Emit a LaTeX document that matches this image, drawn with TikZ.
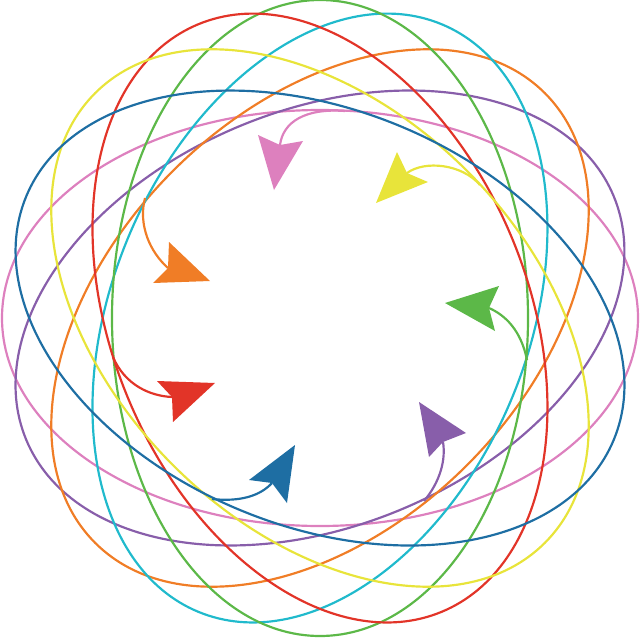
\documentclass[tikz,border=0pt]{standalone}
\definecolor{cpink}{RGB}{221,128,190}
\definecolor{cpurple}{RGB}{136,94,170}
\definecolor{corange}{RGB}{240,125,38}
\definecolor{ccyan}{RGB}{32,186,204}
\definecolor{cgreen}{RGB}{92,184,72}
\definecolor{cred}{RGB}{226,52,40}
\definecolor{cyellow}{RGB}{232,228,58}
\definecolor{cblue}{RGB}{30,110,163}
\begin{document}
\begin{tikzpicture}[x=0.025cm,y=-0.025cm,
  ringline/.style={line width=1.55pt},
  linkline/.style={line width=1.55pt}]
\useasboundingbox (0,0) rectangle (640,640);
\coordinate (c) at (320,318);
% ellipses
\foreach \ang/\col in {0/cpink,22.5/cpurple,45/corange,67.5/ccyan,90/cgreen,112.5/cred,135/cyellow,157.5/cblue}
  \draw[ringline,\col,rotate around={\ang:(c)}] (c) ellipse [x radius=318,y radius=208];
% pink arrow
\coordinate (ps) at (345,111); \coordinate (pn) at (280,145);
\draw[linkline,cpink] (ps) .. controls (305,108) and (283,122) .. (pn);
\fill[cpink] (274,190) -- (258,135) -- (pn) -- (303,141) -- cycle;
% yellow arrow
\coordinate (ys) at (480,185); \coordinate (yn) at (407,173);
\draw[linkline,cyellow] (ys) .. controls (462,164) and (425,160) .. (yn);
\fill[cyellow] (376,203) -- (397,152) -- (yn) -- (428,182) -- cycle;
% green arrow
\coordinate (gs) at (527,360); \coordinate (gn) at (489,308);
\draw[linkline,cgreen] (gs) .. controls (521,330) and (505,315) .. (gn);
\fill[cgreen] (445,303) -- (499,286) -- (gn) -- (495,331) -- cycle;
% purple arrow
\coordinate (us) at (424,501); \coordinate (un) at (443,442);
\draw[linkline,cpurple] (us) .. controls (440,482) and (446,460) .. (un);
\fill[cpurple] (419,402) -- (466,433) -- (un) -- (429,457) -- cycle;
% blue arrow
\coordinate (bs) at (212,499); \coordinate (bn) at (272,483);
\draw[linkline,cblue] (bs) .. controls (240,502) and (260,496) .. (bn);
\fill[cblue] (295,445) -- (249,480) -- (bn) -- (287,503) -- cycle;
% red arrow
\coordinate (rs) at (113,357); \coordinate (rn) at (172,397);
\draw[linkline,cred] (rs) .. controls (125,385) and (150,396) .. (rn);
\fill[cred] (215,383) -- (157,381) -- (rn) -- (173,422) -- cycle;
% orange arrow
\coordinate (os) at (145,198); \coordinate (on) at (168,268);
\draw[linkline,corange] (os) .. controls (138,225) and (150,252) .. (on);
\fill[corange] (210,281) -- (169,242) -- (on) -- (153,283) -- cycle;
\end{tikzpicture}
\end{document}
